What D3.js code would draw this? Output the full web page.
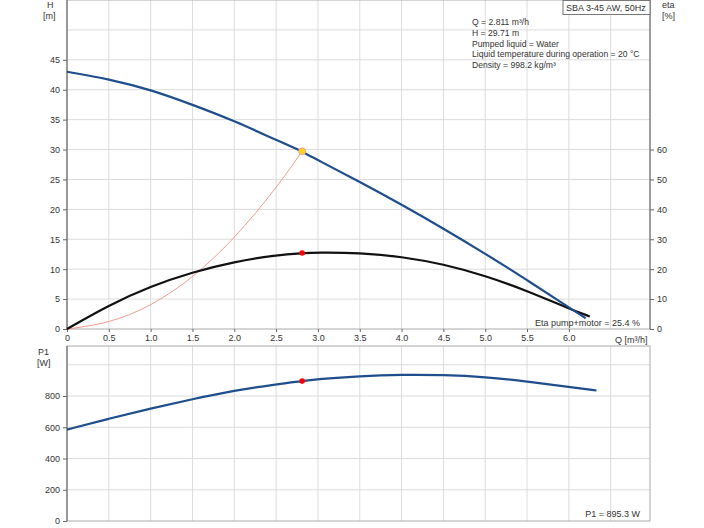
<!DOCTYPE html><html><head><meta charset="utf-8"><script src="https://cdn.jsdelivr.net/npm/d3@7"></script>
<style>body{margin:0;background:#fff}text{font-family:"Liberation Sans",Arial,sans-serif;font-size:9px;fill:#333}</style></head><body><svg id="c" width="704" height="528"></svg><script>
const qH=[0,0.5,1,1.5,2,2.5,2.811,3,3.5,4,4.5,5,5.5,6,6.2];
const hVals=[43,41.8,40,37.5,34.8,31.6,29.71,28.2,24.6,20.8,16.8,12.6,8.2,3.6,1.8];
const qEta=[0,0.5,1,1.5,2,2.5,2.811,3,3.5,4,4.5,5,5.5,6,6.25];
const etaVals=[0,8,14.3,19,22.5,24.7,25.4,25.6,25.5,24.2,21.7,17.8,12.8,6.8,4.2];
const qSys=[0,0.5,1,1.5,2,2.5,2.811];
const sysVals=[0,0.94,3.76,8.46,15.04,23.5,29.71];
const qP=[0,0.5,1,1.5,2,2.5,2.811,3,3.5,4,4.5,5,5.5,6,6.33];
const pVals=[585,655,720,780,835,875,895,908,928,937,935,922,893,858,835];
const xTicks=[0,0.5,1,1.5,2,2.5,3,3.5,4,4.5,5,5.5,6];
const hTicks=[0,5,10,15,20,25,30,35,40,45];
const etaTicks=[0,10,20,30,40,50,60];
const pTicks=[0,200,400,600,800];
const info=["Q = 2.811 m³/h","H = 29.71 m","Pumped liquid = Water","Liquid temperature during operation = 20 °C","Density = 998.2 kg/m³"];
const svg=d3.select("#c");
const L=67,R=650;
const x=d3.scaleLinear().domain([0,6.97]).range([L,R]);
const y=d3.scaleLinear().domain([0,55]).range([329,0]);
const ye=d3.scaleLinear().domain([0,110]).range([329,0]);
const yp=d3.scaleLinear().domain([0,1120]).range([521,346]);
const grid="#dcdcdc";
function grids(yS,yv,top,bot){
 const g=svg.append("g");
 xTicks.concat([6.5]).forEach(t=>g.append("line").attr("x1",x(t)).attr("x2",x(t)).attr("y1",top).attr("y2",bot).attr("stroke",grid));
 yv.forEach(t=>g.append("line").attr("x1",L).attr("x2",R).attr("y1",yS(t)).attr("y2",yS(t)).attr("stroke",grid));
 g.append("rect").attr("x",L).attr("y",top).attr("width",R-L).attr("height",bot-top).attr("fill","none").attr("stroke","#aaa");
}
grids(y,[5,10,15,20,25,30,35,40,45,50],0,329);
grids(yp,[200,400,600,800,1000],346,521);
svg.append("line").attr("x1",L).attr("x2",L).attr("y1",0).attr("y2",329).attr("stroke","#666");
svg.append("line").attr("x1",L).attr("x2",L).attr("y1",346).attr("y2",521).attr("stroke","#666");
svg.append("line").attr("x1",R).attr("x2",R).attr("y1",0).attr("y2",329).attr("stroke","#666");
svg.append("g").attr("transform","translate(0,329)").call(d3.axisBottom(x).tickValues(xTicks).tickSize(3).tickFormat(d=>d===0?"0":d3.format(".1f")(d))).call(g=>g.select(".domain").remove());
svg.append("g").attr("transform",`translate(${L},0)`).call(d3.axisLeft(y).tickValues(hTicks).tickSize(4)).call(g=>g.select(".domain").remove());
svg.append("g").attr("transform",`translate(${R},0)`).call(d3.axisRight(ye).tickValues(etaTicks).tickSize(4)).call(g=>g.select(".domain").remove());
svg.append("g").attr("transform",`translate(${L},0)`).call(d3.axisLeft(yp).tickValues(pTicks).tickSize(4)).call(g=>g.select(".domain").remove());
svg.selectAll(".tick text").style("font-size","9px").attr("fill","#333");
svg.selectAll(".tick line").attr("stroke","#666");
const t=(s,a,b,anchor)=>svg.append("text").attr("x",a).attr("y",b).attr("text-anchor",anchor||"start").text(s);
t("H",47,8);t("[m]",43,19);t("eta",662,8);t("[%]",662,19);t("P1",38,355);t("[W]",37,366);
t("Q [m³/h]",615,343);t("Eta pump+motor = 25.4 %",640,326,"end");t("P1 = 895.3 W",640,517,"end");
info.forEach((s,i)=>t(s,472,25+i*10.8).style("font-size","8.6px"));
svg.append("rect").attr("x",563).attr("y",0.5).attr("width",87).attr("height",14).attr("fill","#fff").attr("stroke","#777");
t("SBA 3-45 AW, 50Hz",566,11);
const ln=(xs,ys,yS,c,w)=>svg.append("path").datum(xs.map((q,i)=>[q,ys[i]])).attr("fill","none").attr("stroke",c).attr("stroke-width",w).attr("d",d3.line().x(d=>x(d[0])).y(d=>yS(d[1])).curve(d3.curveBasis));
ln(qSys,sysVals,y,"#f08070",0.8);
ln(qEta,etaVals,ye,"#111",2.2);
ln(qH,hVals,y,"#1f4e8c",2.2);
ln(qP,pVals,yp,"#1f4e8c",2.2);
svg.append("circle").attr("cx",x(2.811)).attr("cy",y(29.71)).attr("r",3.5).attr("fill","#ffd21f").attr("stroke","#f4a0a0");
svg.append("circle").attr("cx",x(2.811)).attr("cy",ye(25.4)).attr("r",2.8).attr("fill","red");
svg.append("circle").attr("cx",x(2.811)).attr("cy",yp(895.3)).attr("r",2.8).attr("fill","red");
</script></body></html>
